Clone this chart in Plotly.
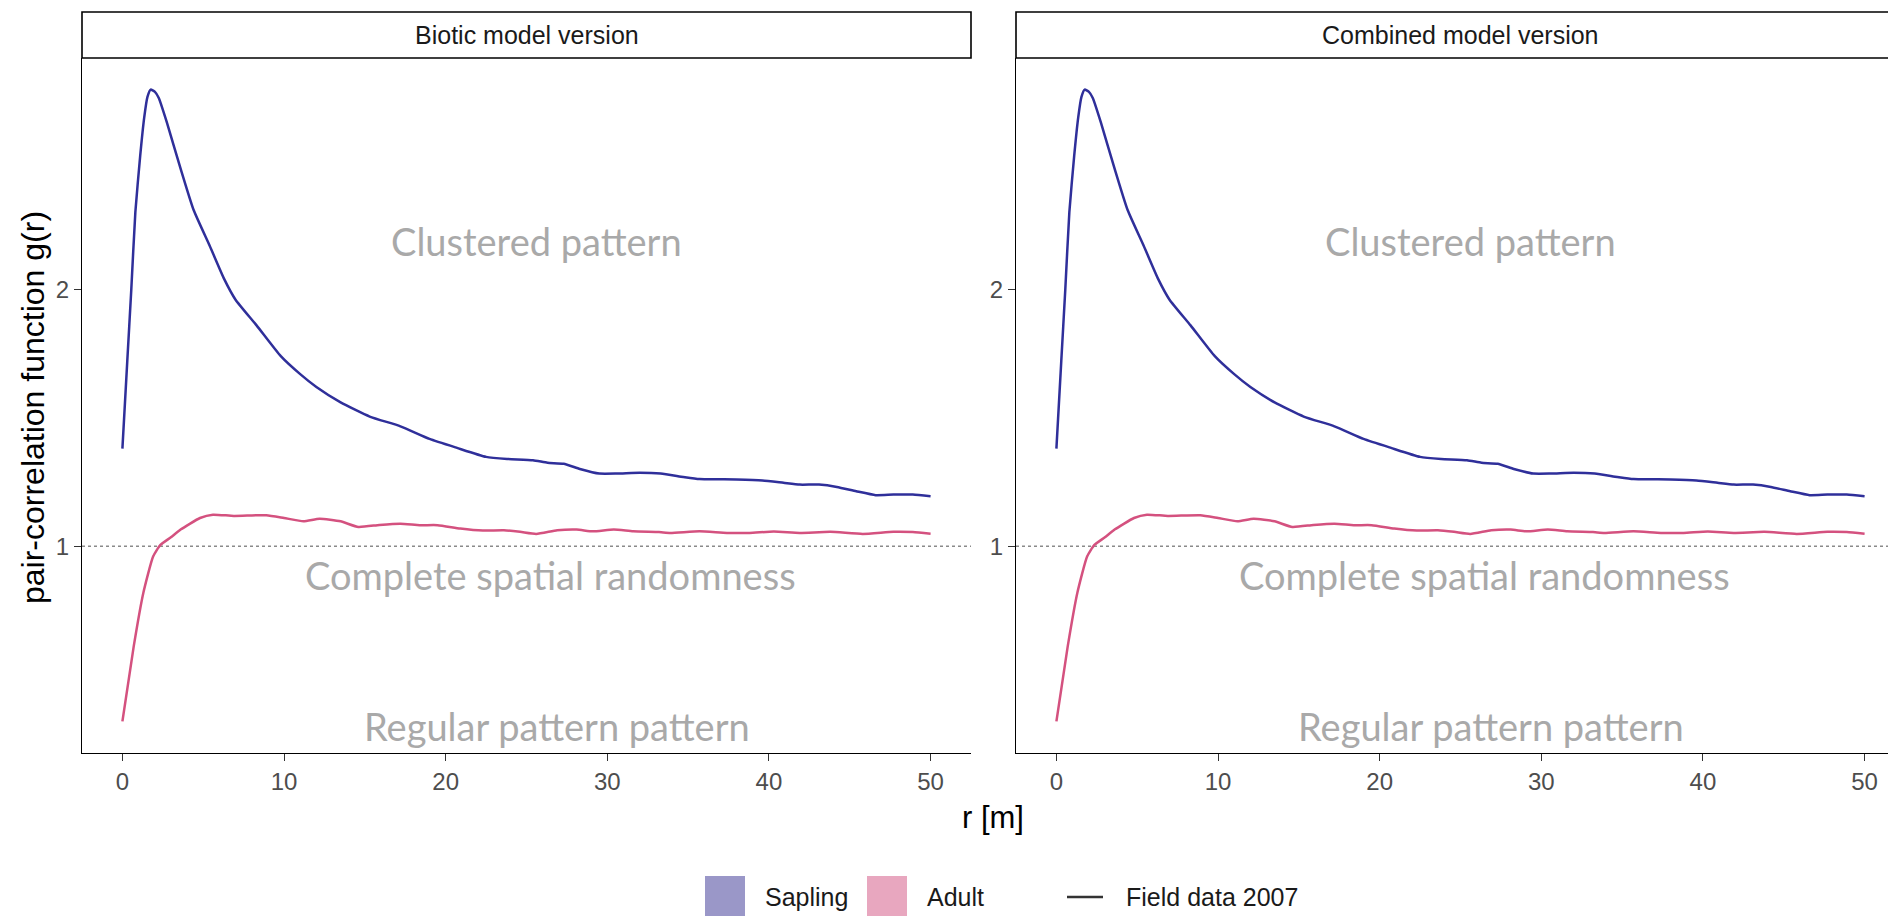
import plotly.graph_objects as go

# ---------------- data ----------------
sapling_r = [0, 0.3, 0.55, 0.8, 1.1, 1.35, 1.55, 1.75, 2.0, 2.25, 2.75, 3.6, 4.4, 5.4, 6.3,
             7.0, 8.3, 9.8, 11.0, 12.0, 13.5, 15.3, 17.2, 19.0, 20.7, 22.5, 23.8, 25.4,
             26.3, 27.3, 28.3, 29.5, 30.6, 32.0, 33.3, 34.7, 35.7, 38.0, 39.6, 40.9,
             41.9, 43.1, 44.2, 45.4, 46.6, 47.7, 48.9, 50.0]
sapling_g = [1.38, 1.72, 2.0, 2.3, 2.52, 2.67, 2.75, 2.778, 2.77, 2.745, 2.65, 2.47, 2.31,
             2.17, 2.04, 1.96, 1.86, 1.74, 1.67, 1.62, 1.56, 1.505, 1.467, 1.418, 1.383,
             1.348, 1.34, 1.335, 1.325, 1.321, 1.301, 1.283, 1.283, 1.286, 1.283, 1.27,
             1.262, 1.26, 1.256, 1.247, 1.24, 1.24, 1.231, 1.214, 1.199, 1.201, 1.201, 1.195]

adult_r = [0, 0.7, 1.3, 1.9, 2.35, 3.0, 3.6, 4.8, 5.6, 6.9, 8.9, 10.0, 11.2, 12.2, 13.5,
           14.6, 15.9, 17.2, 18.4, 19.5, 20.9, 22.3, 23.6, 24.6, 25.6, 26.9, 28.1, 29.1,
           30.4, 31.6, 33.2, 33.9, 35.7, 37.4, 38.8, 40.3, 41.9, 43.8, 45.8, 47.7, 48.9, 50.0]
adult_g = [0.318, 0.61, 0.82, 0.96, 1.005, 1.035, 1.065, 1.11, 1.123, 1.118, 1.121, 1.11,
           1.097, 1.107, 1.097, 1.075, 1.083, 1.088, 1.082, 1.082, 1.069, 1.061, 1.062,
           1.056, 1.048, 1.062, 1.065, 1.058, 1.065, 1.058, 1.055, 1.052, 1.058, 1.052,
           1.052, 1.057, 1.052, 1.056, 1.048, 1.056, 1.055, 1.049]

panel_titles = ["Biotic model version", "Combined model version"]
x_ticks = [0, 10, 20, 30, 40, 50]
y_ticks = [1, 2]
csr_level = 1
pattern_labels = ["Clustered pattern", "Complete spatial randomness", "Regular pattern pattern"]
pattern_x = [25.6, 26.5, 26.9]
pattern_y = [2.19, 0.89, 0.30]
legend_labels = ["Sapling", "Adult", "Field data 2007"]

# ---------------- styling ----------------
W, H = 1888, 916
SAP_COL = "#2F2F9A"
ADU_COL = "#D4517F"
SAP_FILL = "#9A97C8"
ADU_FILL = "#E8A7BF"
FONT = "Liberation Sans, Arial, sans-serif"
ANN_FONT = "Lato, sans-serif"


def X(px):
    return px / W


def Y(py):
    return 1 - py / H


# data extent with ggplot-like 5% expansion
xmin, xmax = min(sapling_r + adult_r), max(sapling_r + adult_r)
ymin, ymax = min(sapling_g + adult_g), max(sapling_g + adult_g)
xpad = 0.05 * (xmax - xmin)
ypad = 0.05 * (ymax - ymin)
xr = [xmin - xpad, xmax + xpad]
yr = [ymin - ypad, ymax + ypad]

panel_top, panel_bot = 58, 753
left_x0, left_x1 = 82, 971
right_x0 = 1016
panel_w = left_x1 - left_x0
right_visible = W - right_x0
xr2 = [xr[0], xr[0] + (xr[1] - xr[0]) * right_visible / panel_w]

fig = go.Figure()
for i, (xa, ya) in enumerate([("x", "y"), ("x2", "y2")]):
    fig.add_trace(go.Scatter(x=sapling_r, y=sapling_g, mode="lines", xaxis=xa, yaxis=ya,
                             line=dict(color=SAP_COL, width=2.5, shape="spline", smoothing=0.5),
                             showlegend=False, hoverinfo="skip"))
    fig.add_trace(go.Scatter(x=adult_r, y=adult_g, mode="lines", xaxis=xa, yaxis=ya,
                             line=dict(color=ADU_COL, width=2.5, shape="spline", smoothing=0.5),
                             showlegend=False, hoverinfo="skip"))

axis_common = dict(showgrid=False, zeroline=False, showline=True, linecolor="black",
                   linewidth=1.4, ticks="outside", ticklen=7, tickwidth=1.2,
                   tickcolor="#333333", tickfont=dict(family=FONT, size=24, color="#4D4D4D"))

fig.update_layout(
    width=W, height=H, autosize=False,
    margin=dict(l=0, r=0, t=0, b=0),
    paper_bgcolor="white", plot_bgcolor="white",
    showlegend=False,
    xaxis=dict(domain=[X(left_x0), X(left_x1)], range=xr, tickvals=x_ticks, anchor="y", **axis_common),
    yaxis=dict(domain=[Y(panel_bot), Y(panel_top)], range=yr, tickvals=y_ticks, anchor="x", **axis_common),
    xaxis2=dict(domain=[X(right_x0), 1.0], range=xr2, tickvals=x_ticks, anchor="y2", **axis_common),
    yaxis2=dict(domain=[Y(panel_bot), Y(panel_top)], range=yr, tickvals=y_ticks, anchor="x2", **axis_common),
)

shapes = []
annotations = []
for i, (xa, ya) in enumerate([("x", "y"), ("x2", "y2")]):
    # CSR reference line
    shapes.append(dict(type="line", xref=f"{xa} domain", yref=ya, x0=0, x1=1,
                       y0=csr_level, y1=csr_level,
                       line=dict(color="#8A8A8A", width=1.3, dash="dot"), layer="below"))
    # pattern labels
    for lab, lx, ly in zip(pattern_labels, pattern_x, pattern_y):
        annotations.append(dict(text=lab, x=lx, y=ly, xref=xa, yref=ya, showarrow=False,
                                xanchor="center", yanchor="middle",
                                font=dict(family=ANN_FONT, size=38, color="#A9A9A9")))

# strips
strip_x = [(left_x0, left_x1), (right_x0, right_x0 + panel_w)]
for (sx0, sx1), title in zip(strip_x, panel_titles):
    shapes.append(dict(type="rect", xref="paper", yref="paper", x0=X(sx0), x1=X(sx1),
                       y0=Y(panel_top), y1=Y(12), line=dict(color="black", width=1.6),
                       fillcolor="white"))
    annotations.append(dict(text=title, x=X((sx0 + sx1) / 2), y=Y(35), xref="paper", yref="paper",
                            showarrow=False, xanchor="center", yanchor="middle",
                            font=dict(family=FONT, size=25, color="#1A1A1A")))

# axis titles
annotations.append(dict(text="r [m]", x=X(993), y=Y(817), xref="paper", yref="paper",
                        showarrow=False, xanchor="center", yanchor="middle",
                        font=dict(family=FONT, size=31, color="black")))
annotations.append(dict(text="pair-correlation function g(r)", x=X(33), y=Y(408), xref="paper",
                        yref="paper", showarrow=False, textangle=-90, xanchor="center",
                        yanchor="middle", font=dict(family=FONT, size=32, color="black")))

# manual legend
ly = 897
shapes.append(dict(type="rect", xref="paper", yref="paper", x0=X(705), x1=X(745),
                   y0=Y(917), y1=Y(876), line=dict(width=0), fillcolor=SAP_FILL))
shapes.append(dict(type="rect", xref="paper", yref="paper", x0=X(867), x1=X(907),
                   y0=Y(917), y1=Y(876), line=dict(width=0), fillcolor=ADU_FILL))
shapes.append(dict(type="line", xref="paper", yref="paper", x0=X(1067), x1=X(1103),
                   y0=Y(ly), y1=Y(ly), line=dict(color="#333333", width=2.6)))
for lab, lx in zip(legend_labels, [763, 925, 1124]):
    annotations.append(dict(text=lab, x=X(lx), y=Y(ly), xref="paper", yref="paper",
                            showarrow=False, xanchor="left", yanchor="middle",
                            font=dict(family=FONT, size=25, color="#1A1A1A")))

fig.update_layout(shapes=shapes, annotations=annotations)
fig.write_html("out.html")
